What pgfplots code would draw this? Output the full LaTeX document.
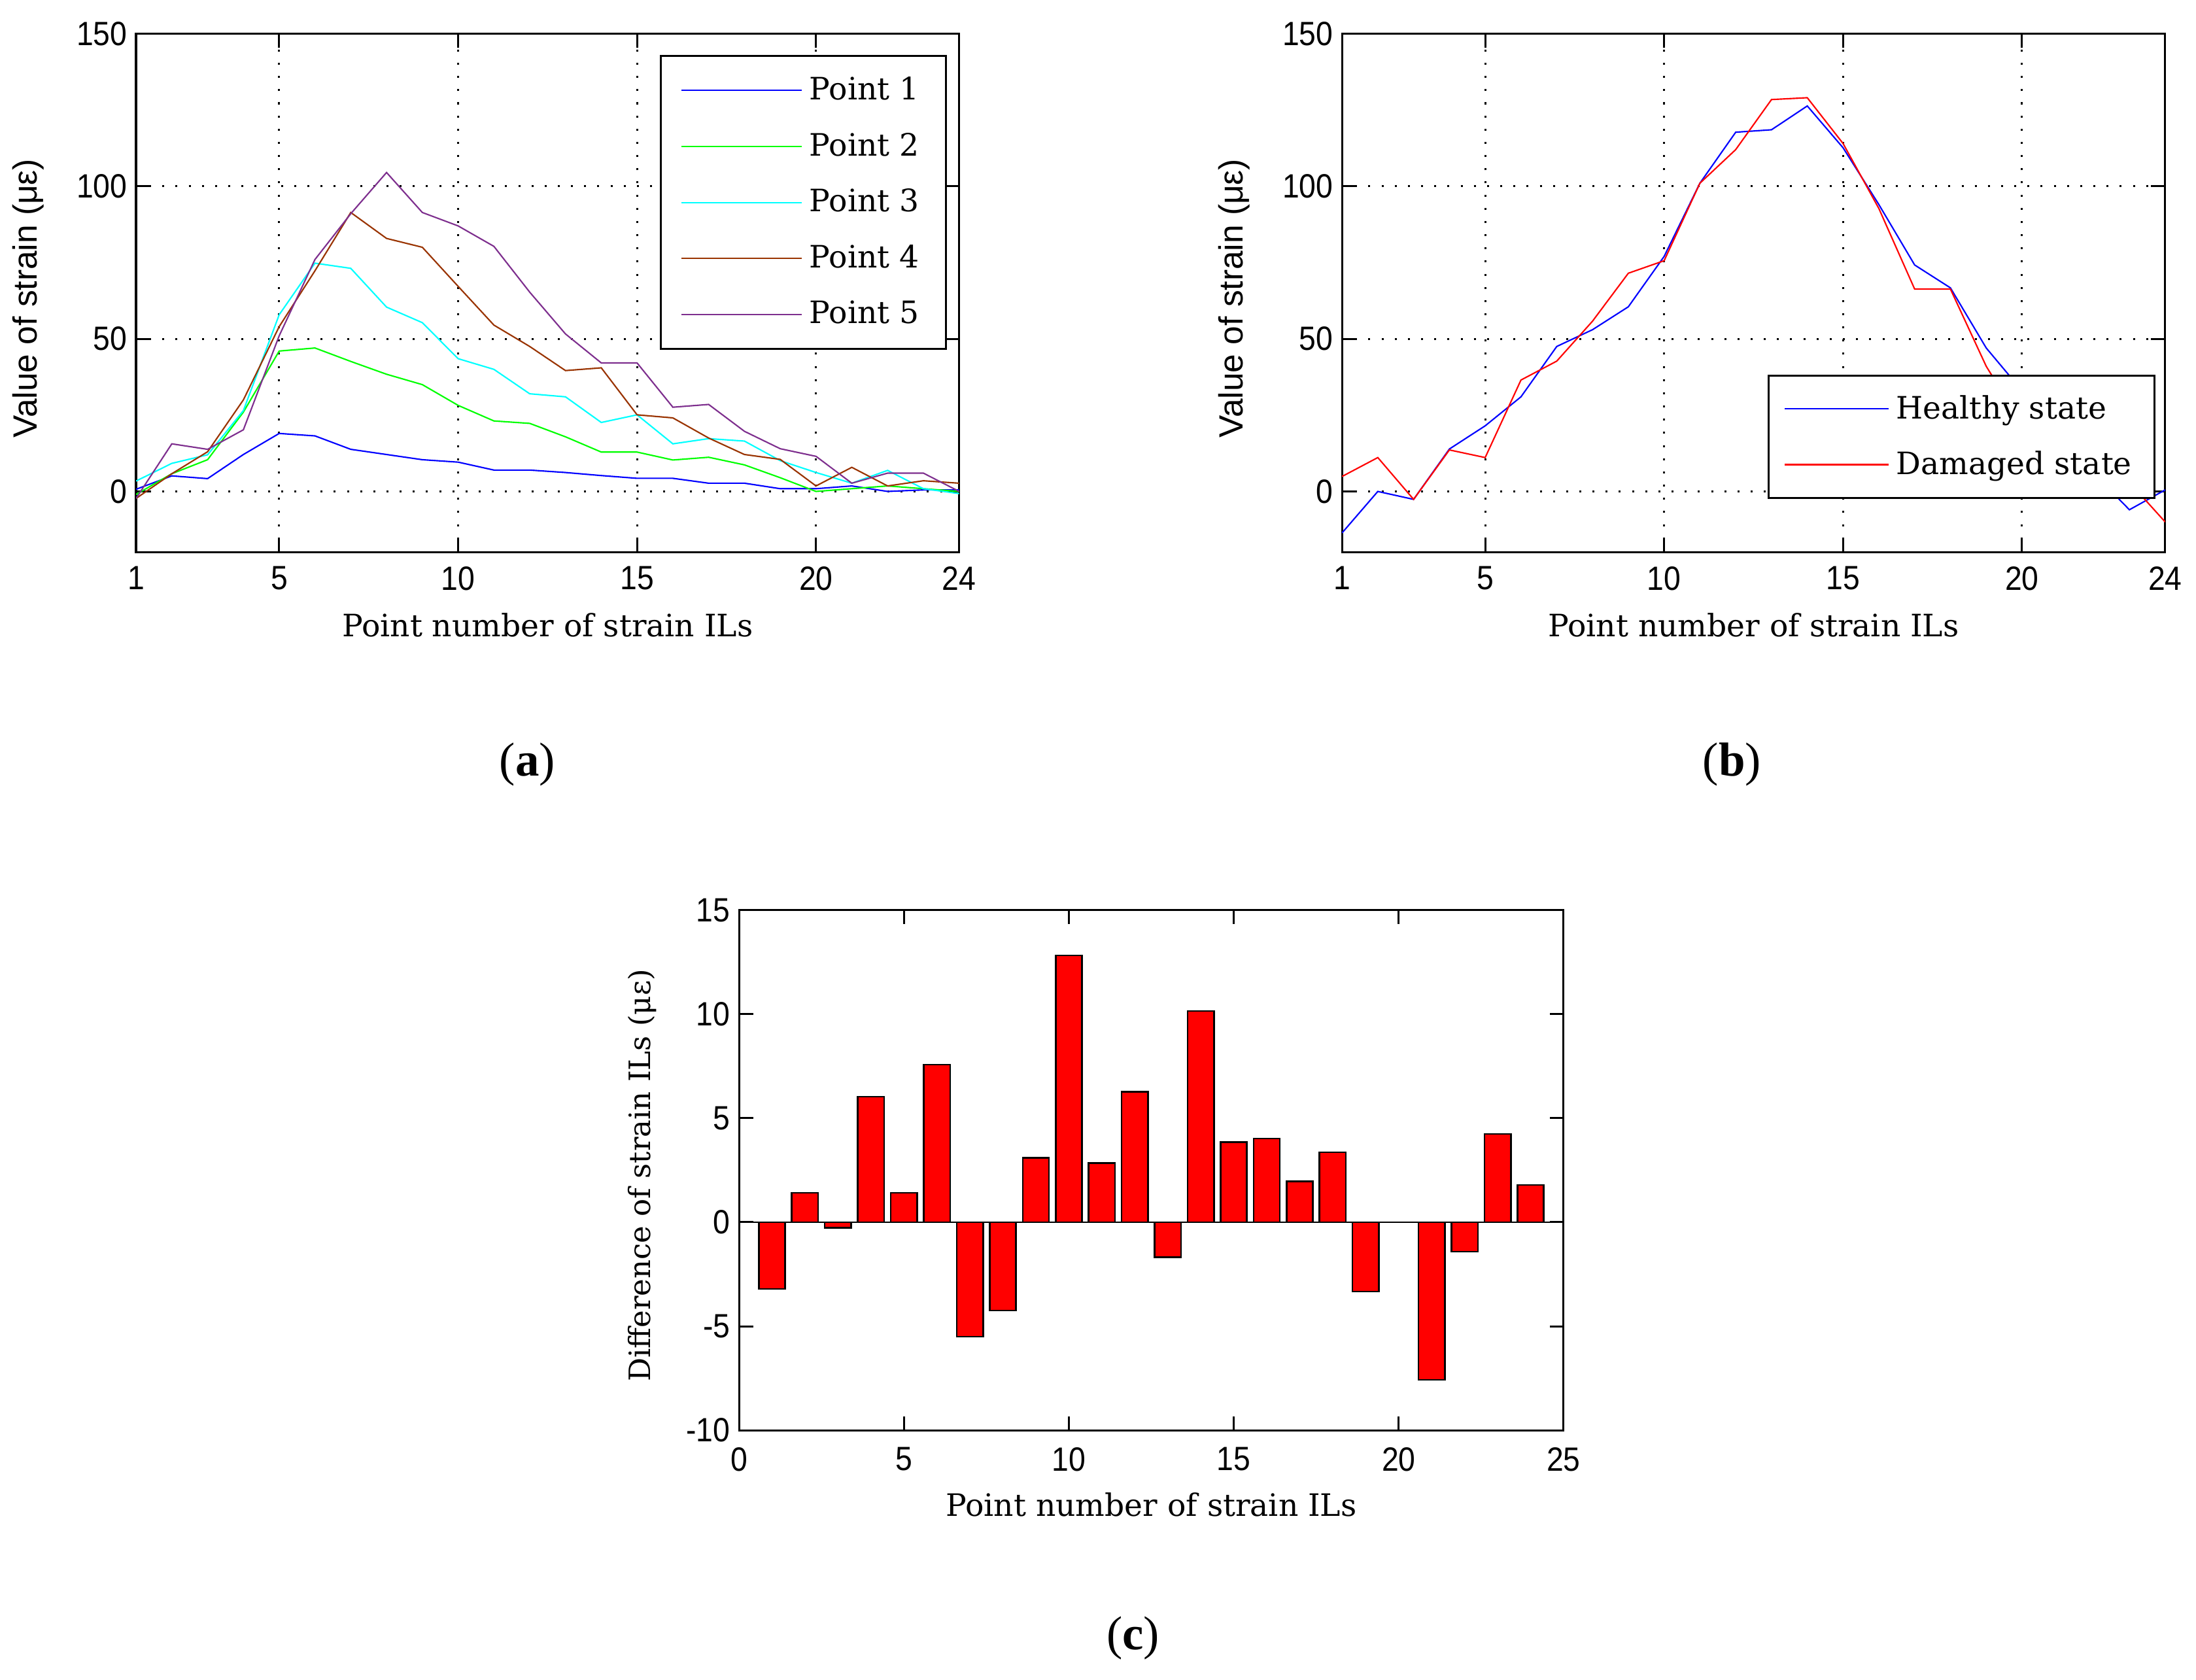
\documentclass[border=0pt]{standalone}
\usepackage{fontspec}
\setmainfont{DejaVu Serif}
\newfontfamily\tickfont{Liberation Sans}
\newfontfamily\capfont{Liberation Serif}
\usepackage{pgfplots}
\pgfplotsset{compat=1.18}
\definecolor{pone}{RGB}{0,0,255}
\definecolor{ptwo}{RGB}{0,255,0}
\definecolor{pthree}{RGB}{0,255,255}
\definecolor{pfour}{RGB}{153,51,0}
\definecolor{pfive}{RGB}{126,47,142}
\pgfplotsset{
  matstyle/.style={
    scale only axis, anchor=south west,
    width=293.5pt, height=185pt,
    axis line style={black, line width=0.7pt},
    tick style={black, line width=0.7pt},
    major tick length=5pt,
    tick align=inside,
    /pgf/number format/assume math mode=true,
    ticklabel style={font=\tickfont\fontsize{12}{14}\selectfont, xscale=0.9},
    xticklabel style={yshift=-1.5pt},
    xlabel style={font=\fontsize{11}{13}\selectfont},
    legend cell align=left,
    legend image code/.code={\draw[##1] (0pt,0pt) -- (43pt,0pt);},
  },
  strainstyle/.style={
    matstyle,
    xmin=1, xmax=24, ymin=-20, ymax=150,
    xtick={1,5,10,15,20,24}, ytick={0,50,100,150},
    grid=major,
    major grid style={black, line width=0.7pt, dash pattern=on 0.7pt off 4pt},
    xlabel={Point number of strain ILs},
    ylabel={\tickfont\fontsize{12}{14}\selectfont Value of strain (με)},
    xlabel style={at={(axis description cs:0.5,-0.14)}, anchor=center},
    ylabel style={at={(axis description cs:-0.131,0.49)}, anchor=center},
  },
}
\begin{document}
\begin{tikzpicture}[x=1pt,y=1pt]
\path[use as bounding box] (0,0) rectangle (783,599);

% (a)
\begin{axis}[strainstyle, at={(48.5pt,402pt)},
  legend style={at={(0.985,0.959)}, anchor=north east, draw=black, line width=0.7pt,
    fill=white, font=\fontsize{11}{13}\selectfont, inner xsep=7pt, inner ysep=5.5pt,
    row sep=6.3pt, nodes={inner xsep=2.5pt, inner ysep=2pt}}]
\addplot[pone, line width=0.5pt] coordinates {(1,0.7)(2,5.1)(3,4.2)(4,12.1)(5,19)(6,18.2)(7,13.8)(8,12.1)(9,10.4)(10,9.6)(11,7)(12,7)(13,6.2)(14,5.2)(15,4.3)(16,4.3)(17,2.7)(18,2.7)(19,0.9)(20,0.9)(21,1.8)(22,0)(23,0.5)(24,0.5)};
\addlegendentry{Point 1}
\addplot[ptwo, line width=0.5pt] coordinates {(1,-1)(2,5.8)(3,10.4)(4,26)(5,46)(6,47)(7,42.6)(8,38.4)(9,35)(10,28.2)(11,23.1)(12,22.3)(13,17.9)(14,12.9)(15,12.9)(16,10.3)(17,11.2)(18,8.7)(19,4.5)(20,0)(21,0.9)(22,1.8)(23,0.9)(24,0)};
\addlegendentry{Point 2}
\addplot[pthree, line width=0.5pt] coordinates {(1,3.4)(2,9.2)(3,12)(4,26.5)(5,57.9)(6,74.8)(7,73.1)(8,60.4)(9,55.3)(10,43.5)(11,40)(12,32)(13,31)(14,22.6)(15,25.1)(16,15.6)(17,17.3)(18,16.5)(19,10.1)(20,6.2)(21,2.7)(22,6.9)(23,0.9)(24,-0.7)};
\addlegendentry{Point 3}
\addplot[pfour, line width=0.5pt] coordinates {(1,-2.3)(2,5.8)(3,13)(4,30)(5,54)(6,72.3)(7,91.4)(8,82.9)(9,80)(10,67.2)(11,54.5)(12,47.5)(13,39.6)(14,40.5)(15,25.1)(16,24.1)(17,17.5)(18,12.1)(19,10.5)(20,1.8)(21,7.9)(22,1.8)(23,3.5)(24,2.7)};
\addlegendentry{Point 4}
\addplot[pfive, line width=0.5pt] coordinates {(1,-2.3)(2,15.6)(3,13.8)(4,20.2)(5,51)(6,76)(7,91)(8,104.5)(9,91.4)(10,87)(11,80.3)(12,65.3)(13,51.6)(14,42.1)(15,42.1)(16,27.6)(17,28.5)(18,19.7)(19,14)(20,11.5)(21,2.7)(22,6)(23,6)(24,0)};
\addlegendentry{Point 5}
\end{axis}

% (b)
\begin{axis}[strainstyle, at={(478.5pt,402pt)},
  legend style={at={(0.988,0.103)}, anchor=south east, draw=black, line width=0.7pt,
    fill=white, font=\fontsize{11}{13}\selectfont, inner xsep=5.5pt, inner ysep=5pt,
    row sep=6pt, nodes={inner xsep=2.5pt, inner ysep=2pt}},
  legend image code/.code={\draw[#1] (0pt,0pt) -- (37pt,0pt);}]
\addplot[pone, line width=0.5pt] coordinates {(1,-13.6)(2,0)(3,-2.6)(4,13.9)(5,21.5)(6,31)(7,47.5)(8,53)(9,60.5)(10,77)(11,101)(12,117.7)(13,118.5)(14,126.3)(15,112.6)(16,94)(17,74.2)(18,66.7)(19,47)(20,33)(21,18)(22,6)(23,-6)(24,0.5)};
\addlegendentry{Healthy state}
\addplot[red, line width=0.5pt] coordinates {(1,4.9)(2,11.1)(3,-2.6)(4,13.6)(5,11.1)(6,36.5)(7,42.7)(8,55.8)(9,71.5)(10,75.6)(11,101)(12,112)(13,128.4)(14,129)(15,114)(16,92.7)(17,66.3)(18,66.3)(19,41)(20,22)(21,10)(22,3)(23,3)(24,-10)};
\addlegendentry{Damaged state}
\end{axis}

% (c)
\begin{axis}[matstyle, at={(263.5pt,89pt)}, width=294pt, height=185.5pt,
  xmin=0, xmax=25, ymin=-10, ymax=15,
  xtick={0,5,...,25}, ytick={-10,-5,...,15},
  xticklabel style={yshift=-1pt},
  xlabel={Point number of strain ILs},
  ylabel={\fontsize{10.5}{12}\selectfont Difference of strain ILs (με)},
  xlabel style={at={(axis description cs:0.5,-0.143)}, anchor=center},
  ylabel style={at={(axis description cs:-0.117,0.49)}, anchor=center}]
\addplot[ybar, bar width=0.8, fill=red, draw=black, line width=0.6pt] coordinates {(1,-3.2)(2,1.42)(3,-0.27)(4,6.03)(5,1.42)(6,7.57)(7,-5.5)(8,-4.24)(9,3.09)(10,12.82)(11,2.84)(12,6.27)(13,-1.69)(14,10.15)(15,3.85)(16,4.02)(17,1.96)(18,3.36)(19,-3.33)(21,-7.57)(22,-1.42)(23,4.24)(24,1.79)};
\addplot[black, line width=0.6pt, sharp plot, forget plot] coordinates {(0,0) (25,0)};
\end{axis}

\node[font=\capfont\fontsize{17}{20}\selectfont] at (188,326.5) {(\textbf{a})};
\node[font=\capfont\fontsize{17}{20}\selectfont] at (617.5,326.5) {(\textbf{b})};
\node[font=\capfont\fontsize{17}{20}\selectfont] at (404,15) {(\textbf{c})};
\end{tikzpicture}
\end{document}
